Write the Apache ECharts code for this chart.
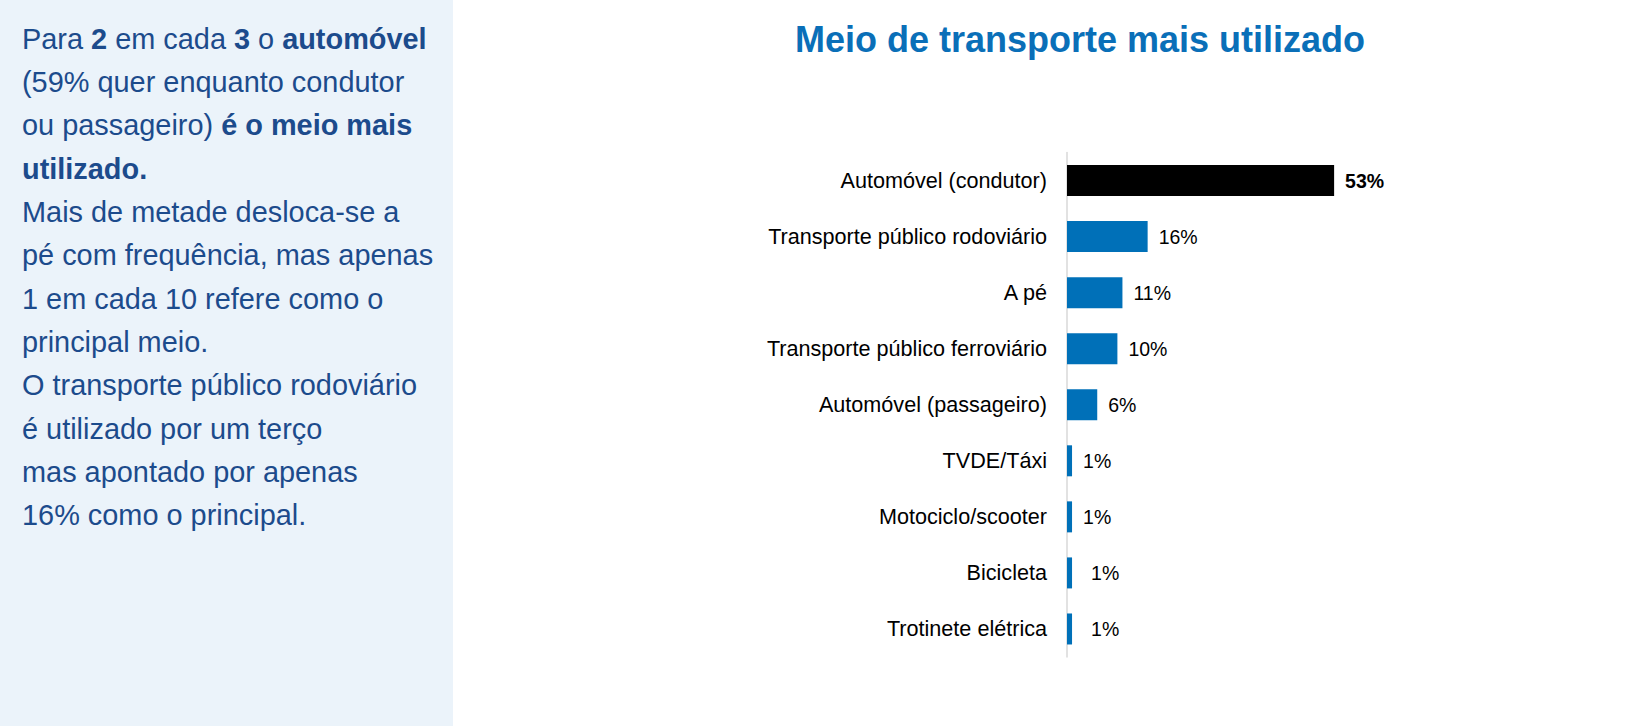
<!DOCTYPE html>
<html>
<head>
<meta charset="utf-8">
<script src="https://cdn.jsdelivr.net/npm/echarts@6/dist/echarts.min.js"></script>
<style>
html,body{margin:0;padding:0;background:#fff;}
#chart{width:1625px;height:726px;}
</style>
</head>
<body>
<div id="chart"></div>
<script>
const categories = [
  "Automóvel (condutor)",
  "Transporte público rodoviário",
  "A pé",
  "Transporte público ferroviário",
  "Automóvel (passageiro)",
  "TVDE/Táxi",
  "Motociclo/scooter",
  "Bicicleta",
  "Trotinete elétrica"
];
const values = [53, 16, 11, 10, 6, 1, 1, 1, 1];
const titleText = "Meio de transporte mais utilizado";
const panelLines = [
  "Para {b|2} em cada {b|3} o {b|automóvel}",
  "(59% quer enquanto condutor",
  "ou passageiro) {b|é o meio mais}",
  "{b|utilizado.}",
  "Mais de metade desloca-se a",
  "pé com frequência, mas apenas",
  "1 em cada 10 refere como o",
  "principal meio.",
  "O transporte público rodoviário",
  "é utilizado por um terço",
  "mas apontado por apenas",
  "16% como o principal."
];

const FONT = "'Liberation Sans', Arial, sans-serif";
const chart = echarts.init(document.getElementById('chart'), null, {renderer: 'svg'});

const seriesData = values.map((v, i) => ({
  value: v,
  itemStyle: {color: i === 0 ? '#000000' : '#0070B8'},
  label: {
    fontWeight: i === 0 ? 'bold' : 'normal',
    offset: [i >= 7 ? 8 : 0, 0]
  }
}));

chart.setOption({
  animation: false,
  title: {
    text: titleText,
    left: 1075,
    textAlign: 'center',
    top: 16,
    textStyle: {fontFamily: FONT, fontSize: 36, fontWeight: 'bold', color: '#0A6FB8'}
  },
  graphic: [
    {
      type: 'rect', z: -10, silent: true,
      shape: {x: 0, y: 0, width: 453, height: 726},
      style: {fill: '#EBF3FA'}
    },
    {
      type: 'text', left: 22, top: 17, silent: true,
      style: {
        text: panelLines.join('\n'),
        fontFamily: FONT, fontSize: 28.9, lineHeight: 43.33, fill: '#1C4B8C',
        rich: {
          b: {fontFamily: FONT, fontSize: 28.9, lineHeight: 43.33, fontWeight: 'bold', fill: '#1C4B8C', color: '#1C4B8C'}
        }
      }
    }
  ],
  grid: {left: 1067, top: 152.5, width: 302.4, height: 504.5, containLabel: false},
  xAxis: {
    type: 'value', min: 0, max: 60,
    show: false
  },
  yAxis: {
    type: 'category',
    data: categories,
    inverse: true,
    axisLine: {show: true, lineStyle: {color: '#D9D9D9', width: 1.5}},
    axisTick: {show: false},
    axisLabel: {margin: 20, fontFamily: FONT, fontSize: 21.6, color: '#000000'},
    splitLine: {show: false}
  },
  series: [{
    type: 'bar',
    data: seriesData,
    barWidth: 31,
    label: {
      show: true, position: 'right', distance: 11,
      formatter: '{c}%',
      fontFamily: FONT, fontSize: 19.5, color: '#000000'
    }
  }]
});
</script>
</body>
</html>
